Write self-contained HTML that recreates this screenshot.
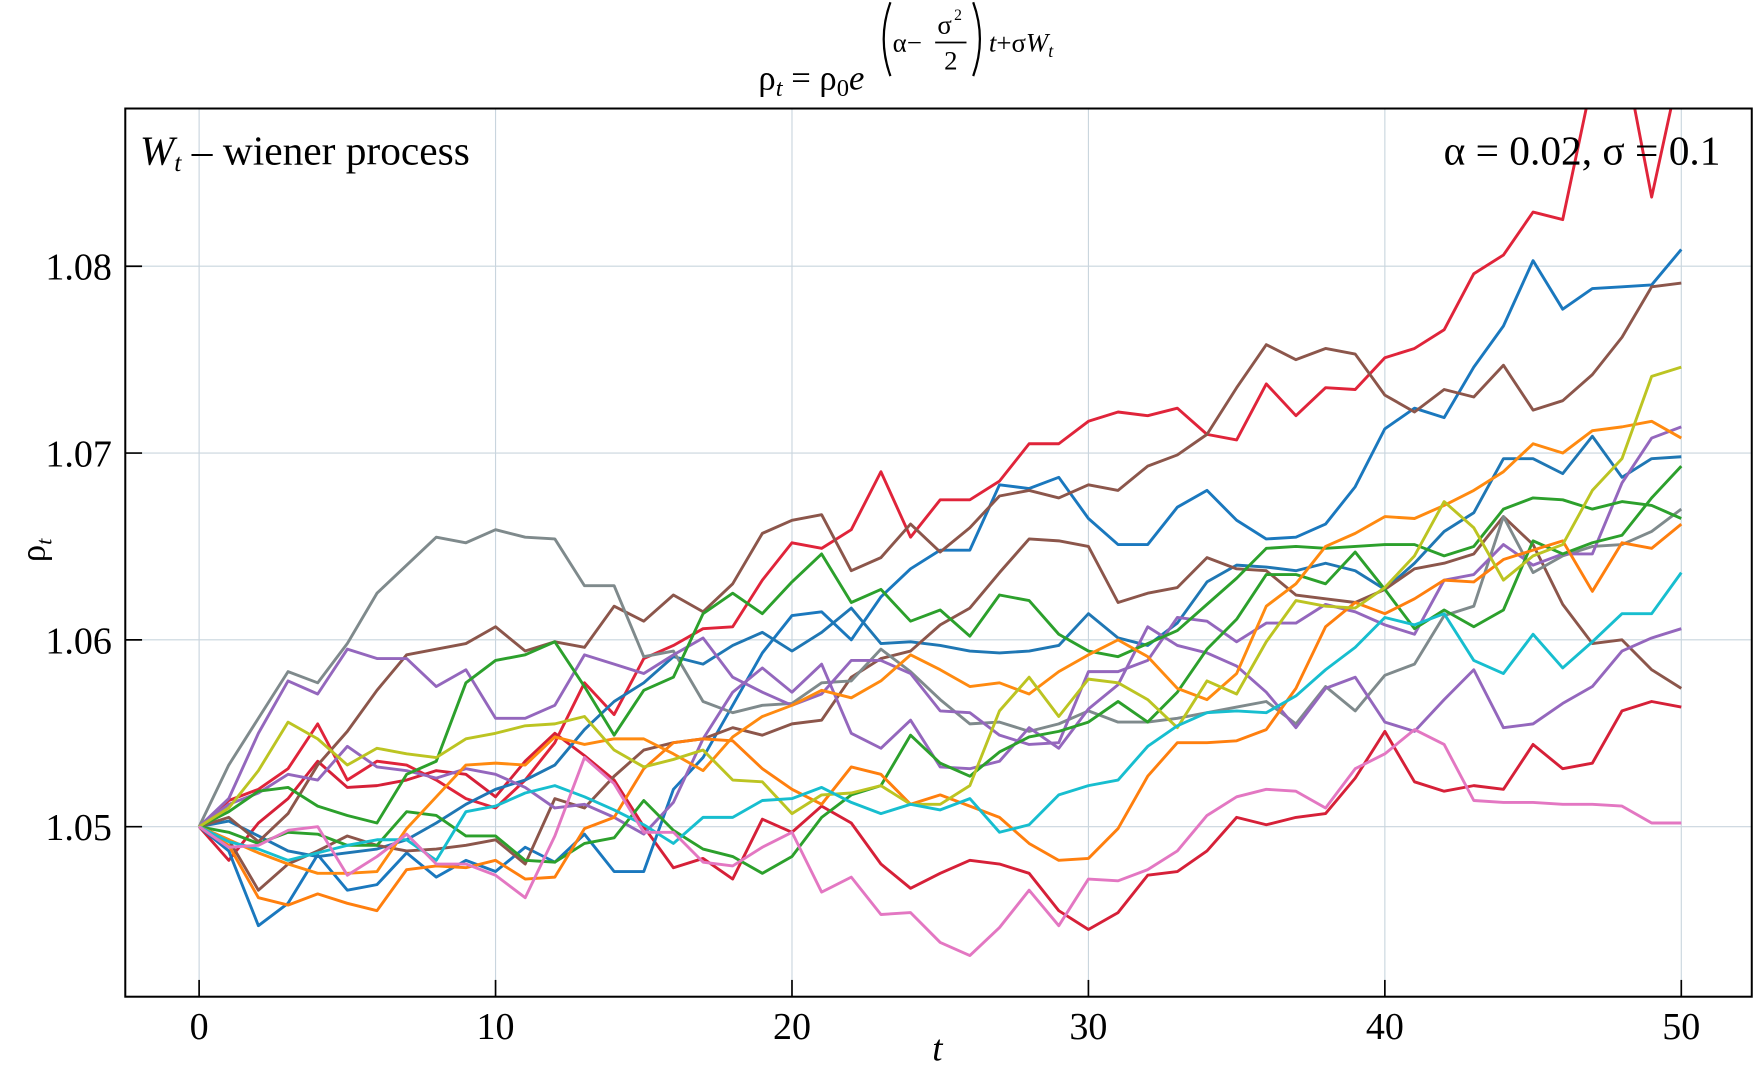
<!DOCTYPE html>
<html><head><meta charset="utf-8"><style>
html,body{margin:0;padding:0;background:#fff;}
svg{display:block;font-family:"Liberation Serif",serif;}
</style></head><body>
<svg id="chart" width="1754" height="1073" viewBox="0 0 1568 959.2" preserveAspectRatio="none" xmlns="http://www.w3.org/2000/svg">
<defs><clipPath id="clip"><rect x="112" y="97" width="1454" height="794"/></clipPath></defs>
<g>
<text x="678" y="80" font-size="31">ρ<tspan font-style="italic" font-size="22" dy="6">t</tspan><tspan dy="-6"> = ρ</tspan><tspan font-size="22" dy="6">0</tspan><tspan dy="-6" font-style="italic">e</tspan></text>
<path d="M796,2 Q784,35 796,68" fill="none" stroke="#000" stroke-width="2"/>
<text x="798" y="46" font-size="24">α−</text>
<text x="838" y="30" font-size="24">σ</text><text x="853" y="18" font-size="14">2</text>
<line x1="836" y1="38" x2="864" y2="38" stroke="#000" stroke-width="1.5"/>
<text x="844" y="62" font-size="24">2</text>
<path d="M870,2 Q882,35 870,68" fill="none" stroke="#000" stroke-width="2"/>
<text x="884" y="46" font-size="24"><tspan font-style="italic">t</tspan>+σ<tspan font-style="italic">W</tspan><tspan font-style="italic" font-size="16" dy="5">t</tspan></text>
</g>
<g id="grid"></g>
<g id="series" clip-path="url(#clip)"></g>
<rect x="112" y="97" width="1454" height="794" fill="none" stroke="#000" stroke-width="1.8"/>
<g id="ticks"></g>
<text x="125" y="147" font-size="37"><tspan font-style="italic">W</tspan><tspan font-style="italic" font-size="23" dy="6">t</tspan><tspan dy="-6"> – wiener process</tspan></text>
<text x="1538" y="147" font-size="37" text-anchor="end">α = 0.02, σ = 0.1</text>
<text x="838" y="948" font-size="33" font-style="italic" text-anchor="middle">t</text>
<text transform="translate(40,492) rotate(-90)" font-size="31" text-anchor="middle">ρ<tspan font-style="italic" font-size="20" dy="6">t</tspan></text>
</svg>
<script>
const xTicks=[0,10,20,30,40,50];
const yTicks=[1.05,1.06,1.07,1.08];
const yTickLabels=["1.05","1.06","1.07","1.08"];
const colors=["#e0243a","#d62038","#1a78be","#1f77b4","#8c564b","#8c564b","#7f8a8c","#9467bd","#9467bd","#2ca02c","#2ca02c","#ff7f0e","#ff8a10","#bcc422","#17becf","#e377c2"];
const sRed1=[1.05,1.0514,1.052,1.0531,1.0555,1.0525,1.0535,1.0533,1.0525,1.0515,1.051,1.0525,1.0545,1.0577,1.056,1.059,1.0597,1.0606,1.0607,1.0632,1.0652,1.0649,1.0659,1.069,1.0655,1.0675,1.0675,1.0685,1.0705,1.0705,1.0717,1.0722,1.072,1.0724,1.071,1.0707,1.0737,1.072,1.0735,1.0734,1.0751,1.0756,1.0766,1.0796,1.0806,1.0829,1.0825,1.090,1.092,1.0837,1.091];
const sRed2=[1.05,1.0482,1.0502,1.0515,1.0535,1.0521,1.0522,1.0525,1.053,1.0528,1.0516,1.0535,1.055,1.0538,1.0525,1.05,1.0478,1.0483,1.0472,1.0504,1.0497,1.0511,1.0502,1.048,1.0467,1.0475,1.0482,1.048,1.0475,1.0455,1.0445,1.0454,1.0474,1.0476,1.0487,1.0505,1.0501,1.0505,1.0507,1.0526,1.0551,1.0524,1.0519,1.0522,1.052,1.0544,1.0531,1.0534,1.0562,1.0567,1.0564];
const sBlue1=[1.05,1.0487,1.0447,1.0459,1.0485,1.0466,1.0469,1.0486,1.0473,1.0482,1.0476,1.0489,1.0481,1.0496,1.0476,1.0476,1.052,1.0537,1.0565,1.0593,1.0613,1.0615,1.06,1.0623,1.0638,1.0648,1.0648,1.0683,1.0681,1.0687,1.0665,1.0651,1.0651,1.0671,1.068,1.0664,1.0654,1.0655,1.0662,1.0682,1.0713,1.0724,1.0719,1.0746,1.0768,1.0803,1.0777,1.0788,1.0789,1.079,1.0809];
const sBlue2=[1.05,1.0503,1.0495,1.0487,1.0484,1.0486,1.0488,1.0493,1.0502,1.0512,1.052,1.0525,1.0533,1.0552,1.0567,1.0577,1.0591,1.0587,1.0597,1.0604,1.0594,1.0604,1.0617,1.0598,1.0599,1.0597,1.0594,1.0593,1.0594,1.0597,1.0614,1.0601,1.0597,1.0609,1.0631,1.064,1.0639,1.0637,1.0641,1.0637,1.0627,1.0641,1.0658,1.0668,1.0697,1.0697,1.0689,1.0709,1.0687,1.0697,1.0698];
const sBrown1=[1.05,1.0505,1.0492,1.0507,1.0533,1.0551,1.0573,1.0592,1.0595,1.0598,1.0607,1.0594,1.0599,1.0596,1.0618,1.061,1.0624,1.0615,1.063,1.0657,1.0664,1.0667,1.0637,1.0644,1.0662,1.0647,1.066,1.0677,1.068,1.0676,1.0683,1.068,1.0693,1.0699,1.071,1.0735,1.0758,1.075,1.0756,1.0753,1.0731,1.0722,1.0734,1.073,1.0747,1.0723,1.0728,1.0742,1.0762,1.0789,1.0791];
const sBrown2=[1.05,1.0493,1.0466,1.048,1.0487,1.0495,1.049,1.0487,1.0488,1.049,1.0493,1.048,1.0515,1.051,1.0527,1.0541,1.0545,1.0547,1.0553,1.0549,1.0555,1.0557,1.058,1.059,1.0594,1.0608,1.0617,1.0636,1.0654,1.0653,1.065,1.062,1.0625,1.0628,1.0644,1.0638,1.0637,1.0624,1.0622,1.062,1.0627,1.0638,1.0641,1.0646,1.0666,1.0651,1.0619,1.0598,1.06,1.0584,1.0574];
const sGray=[1.05,1.0533,1.0558,1.0583,1.0577,1.0598,1.0625,1.064,1.0655,1.0652,1.0659,1.0655,1.0654,1.0629,1.0629,1.0591,1.0594,1.0567,1.0561,1.0565,1.0566,1.0577,1.0578,1.0595,1.0583,1.0568,1.0555,1.0556,1.0551,1.0555,1.0562,1.0556,1.0556,1.0558,1.0561,1.0564,1.0567,1.0555,1.0575,1.0562,1.0581,1.0587,1.0613,1.0618,1.0666,1.0636,1.0645,1.065,1.0651,1.0658,1.067];
const sPurple1=[1.05,1.0515,1.055,1.0578,1.0571,1.0595,1.059,1.059,1.0575,1.0584,1.0558,1.0558,1.0565,1.0592,1.0587,1.0582,1.0592,1.0601,1.058,1.0572,1.0565,1.0571,1.0589,1.0589,1.0582,1.0562,1.0561,1.0549,1.0544,1.0545,1.0583,1.0583,1.0589,1.0612,1.061,1.0599,1.0609,1.0609,1.0619,1.0615,1.0608,1.0603,1.0632,1.0635,1.0651,1.064,1.0646,1.0646,1.0684,1.0708,1.0714];
const sPurple2=[1.05,1.0512,1.0518,1.0528,1.0525,1.0543,1.0532,1.053,1.0526,1.0531,1.0528,1.0521,1.051,1.0512,1.0505,1.0496,1.0513,1.0547,1.0572,1.0585,1.0572,1.0587,1.055,1.0542,1.0557,1.0532,1.0531,1.0535,1.0553,1.0542,1.0563,1.0576,1.0607,1.0597,1.0593,1.0586,1.0572,1.0553,1.0574,1.058,1.0556,1.0551,1.0568,1.0584,1.0553,1.0555,1.0566,1.0575,1.0594,1.0601,1.0606];
const sGreen1=[1.05,1.0508,1.0519,1.0521,1.0511,1.0506,1.0502,1.0528,1.0535,1.0577,1.0589,1.0592,1.0599,1.0575,1.0549,1.0573,1.058,1.0614,1.0625,1.0614,1.0631,1.0646,1.062,1.0627,1.061,1.0616,1.0602,1.0624,1.0621,1.0603,1.0594,1.0591,1.0598,1.0605,1.0619,1.0633,1.0649,1.065,1.0649,1.065,1.0651,1.0651,1.0645,1.065,1.067,1.0676,1.0675,1.067,1.0674,1.0672,1.0665];
const sGreen2=[1.05,1.0497,1.0491,1.0497,1.0496,1.049,1.049,1.0508,1.0506,1.0495,1.0495,1.0482,1.0481,1.0491,1.0494,1.0514,1.0498,1.0488,1.0484,1.0475,1.0484,1.0505,1.0517,1.0522,1.0549,1.0534,1.0527,1.054,1.0548,1.0551,1.0556,1.0567,1.0556,1.0572,1.0595,1.0611,1.0635,1.0635,1.063,1.0647,1.0627,1.0606,1.0616,1.0607,1.0616,1.0653,1.0646,1.0652,1.0656,1.0676,1.0693];
const sOrange1=[1.05,1.049,1.0462,1.0458,1.0464,1.0459,1.0455,1.0477,1.0479,1.0478,1.0482,1.0472,1.0473,1.0499,1.0505,1.0531,1.0545,1.0547,1.0546,1.0531,1.052,1.0512,1.0532,1.0528,1.0512,1.0517,1.0511,1.0505,1.0491,1.0482,1.0483,1.0499,1.0527,1.0545,1.0545,1.0546,1.0552,1.0574,1.0607,1.062,1.0614,1.0622,1.0632,1.0631,1.0643,1.0648,1.0653,1.0626,1.0652,1.0649,1.0662];
const sOrange2=[1.05,1.0493,1.0486,1.048,1.0475,1.0475,1.0476,1.0499,1.0516,1.0533,1.0534,1.0533,1.0548,1.0544,1.0547,1.0547,1.0539,1.053,1.0548,1.0559,1.0565,1.0573,1.0569,1.0578,1.0592,1.0584,1.0575,1.0577,1.0571,1.0583,1.0592,1.06,1.0591,1.0574,1.0568,1.0582,1.0618,1.063,1.065,1.0657,1.0666,1.0665,1.0672,1.068,1.069,1.0705,1.07,1.0712,1.0714,1.0717,1.0708];
const sOlive=[1.05,1.051,1.053,1.0556,1.0547,1.0533,1.0542,1.0539,1.0537,1.0547,1.055,1.0554,1.0555,1.0559,1.0541,1.0532,1.0536,1.0541,1.0525,1.0524,1.0507,1.0517,1.0518,1.0522,1.0512,1.0512,1.0522,1.0562,1.058,1.0559,1.0579,1.0577,1.0568,1.0553,1.0578,1.0571,1.0599,1.0621,1.0618,1.0617,1.0628,1.0645,1.0674,1.066,1.0632,1.0645,1.0651,1.068,1.0697,1.0741,1.0746];
const sCyan=[1.05,1.0492,1.0488,1.0482,1.0486,1.049,1.0493,1.0493,1.0482,1.0508,1.0511,1.0518,1.0522,1.0516,1.0509,1.0501,1.0491,1.0505,1.0505,1.0514,1.0515,1.0521,1.0513,1.0507,1.0512,1.0509,1.0515,1.0497,1.0501,1.0517,1.0522,1.0525,1.0543,1.0554,1.0561,1.0562,1.0561,1.057,1.0584,1.0596,1.0612,1.0608,1.0614,1.0589,1.0582,1.0603,1.0585,1.0599,1.0614,1.0614,1.0636];
const sPink=[1.05,1.0489,1.049,1.0498,1.05,1.0474,1.0484,1.0496,1.048,1.048,1.0474,1.0462,1.0495,1.0537,1.0523,1.0497,1.0497,1.0481,1.0479,1.0489,1.0497,1.0465,1.0473,1.0453,1.0454,1.0438,1.0431,1.0446,1.0466,1.0447,1.0472,1.0471,1.0477,1.0487,1.0506,1.0516,1.052,1.0519,1.051,1.0531,1.0539,1.0552,1.0544,1.0514,1.0513,1.0513,1.0512,1.0512,1.0511,1.0502,1.0502];
const seriesList=[sRed1,sRed2,sBlue1,sBlue2,sBrown1,sBrown2,sGray,sPurple1,sPurple2,sGreen1,sGreen2,sOrange1,sOrange2,sOlive,sCyan,sPink];
const seriesNames=["red-1","red-2","blue-1","blue-2","brown-1","brown-2","gray","purple-1","purple-2","green-1","green-2","orange-1","orange-2","olive","cyan","pink"];

const NS="http://www.w3.org/2000/svg";
function xs(t){return 178+(t-0)*(1503-178)/50;}
function ys(v){return 739-(v-1.05)*(739-238)/0.03;}
const grid=document.getElementById('grid'),ticks=document.getElementById('ticks'),ser=document.getElementById('series');
function mk(tag,attrs,parent){const e=document.createElementNS(NS,tag);for(const k in attrs)e.setAttribute(k,attrs[k]);parent.appendChild(e);return e;}
xTicks.forEach(t=>{
  const x=xs(t);
  const g=mk('line',{x1:x,x2:x,y1:97,y2:891,stroke:'#c9d5de','stroke-width':1},grid);
  
  
  const tk=mk('line',{x1:x,x2:x,y1:891,y2:876,stroke:'#000','stroke-width':1.5},ticks);
  
  
  const lb=mk('text',{x:x,y:929,'font-size':34,'text-anchor':'middle'},ticks);
  lb.textContent=String(t);
  
  
});
yTicks.forEach((v,i)=>{
  const y=ys(v);
  const g=mk('line',{x1:112,x2:1566,y1:y,y2:y,stroke:'#c9d5de','stroke-width':1},grid);
  
  
  const tk=mk('line',{x1:112,x2:127,y1:y,y2:y,stroke:'#000','stroke-width':1.5},ticks);
  
  
  const lb=mk('text',{x:100,y:y+12,'font-size':34,'text-anchor':'end'},ticks);
  lb.textContent=yTickLabels[i];
  
  
});
seriesList.forEach((arr,i)=>{
  const pts=arr.map((v,t)=>xs(t).toFixed(1)+','+ys(v).toFixed(1)).join(' ');
  const p=mk('polyline',{points:pts,fill:'none',stroke:colors[i],'stroke-width':2.6,'stroke-linejoin':'round'},ser);
  
  
});
</script>
</body></html>
